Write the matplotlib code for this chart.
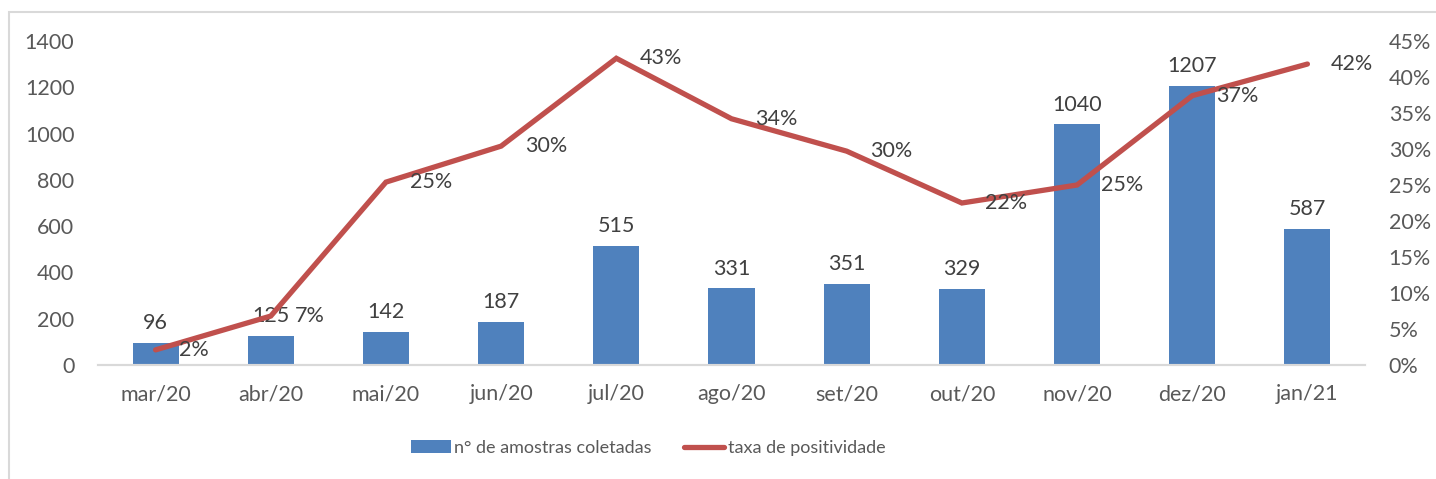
import matplotlib.pyplot as plt
from matplotlib.patches import Rectangle
from matplotlib.ticker import PercentFormatter

# Data
months = ["mar/20", "abr/20", "mai/20", "jun/20", "jul/20", "ago/20",
          "set/20", "out/20", "nov/20", "dez/20", "jan/21"]
samples = [96, 125, 142, 187, 515, 331, 351, 329, 1040, 1207, 587]
positivity = [2.1, 6.8, 25.4, 30.4, 42.6, 34.2, 29.7, 22.5, 25.0, 37.4, 41.8]

bar_color = "#4F81BD"
line_color = "#C0504D"
text_color = "#595959"
label_color = "#404040"
fs = 15.5

plt.rcParams["font.family"] = ["Lato", "DejaVu Sans"]
plt.rcParams["font.size"] = fs

fig = plt.figure(figsize=(14.36, 4.79), dpi=100)

# outer frame like the spreadsheet chart area
fig.patches.append(Rectangle((9 / 1436, -0.2), 1.2, 1.2 - 12 / 479,
                             transform=fig.transFigure, fill=False,
                             edgecolor="#D9D9D9", linewidth=1.5))

ax = fig.add_axes([98 / 1436, 1 - 365 / 479, (1365 - 98) / 1436, (365 - 41) / 479])
ax2 = ax.twinx()

x = list(range(len(months)))

# bars
ax.bar(x, samples, width=0.4, color=bar_color, label="n° de amostras coletadas", zorder=2)
for xi, v in zip(x, samples):
    ax.annotate(str(v), (xi, v), xytext=(0, 7), textcoords="offset points",
                ha="center", va="bottom", color=label_color, fontsize=fs)

ax.set_xlim(-0.5, len(months) - 0.5)
ax.set_ylim(0, 1400)
ax.set_yticks(range(0, 1401, 200))
ax.set_xticks(x)
ax.set_xticklabels(months)

# line
ax2.plot(x, positivity, color=line_color, linewidth=3.8, solid_capstyle="round",
         solid_joinstyle="miter", label="taxa de positividade", zorder=3)
for xi, v in zip(x, positivity):
    ax2.annotate(f"{round(v):.0f}%", (xi, v), xytext=(17, 0), textcoords="offset points",
                 ha="left", va="center", color=label_color, fontsize=fs)
ax2.set_ylim(0, 45)
ax2.set_yticks(range(0, 46, 5))
ax2.yaxis.set_major_formatter(PercentFormatter(decimals=0))

for a in (ax, ax2):
    for s in ("top", "left", "right"):
        a.spines[s].set_visible(False)
    a.spines["bottom"].set_color("#D9D9D9")
    a.spines["bottom"].set_linewidth(1.5)
    a.tick_params(length=0, colors=text_color, labelsize=fs)

ax.tick_params(axis="y", pad=17)
ax.tick_params(axis="x", pad=14)
ax2.tick_params(axis="y", pad=17)

# legend
h1, l1 = ax.get_legend_handles_labels()
h2, l2 = ax2.get_legend_handles_labels()
fig.legend(h1 + h2, l1 + l2, loc="center", bbox_to_anchor=(648 / 1436, 1 - 448 / 479),
           ncol=2, frameon=False, fontsize=13, labelcolor=text_color,
           handlelength=2.2, handletextpad=0.2, columnspacing=1.8)

fig.savefig("out.png", dpi=100)
